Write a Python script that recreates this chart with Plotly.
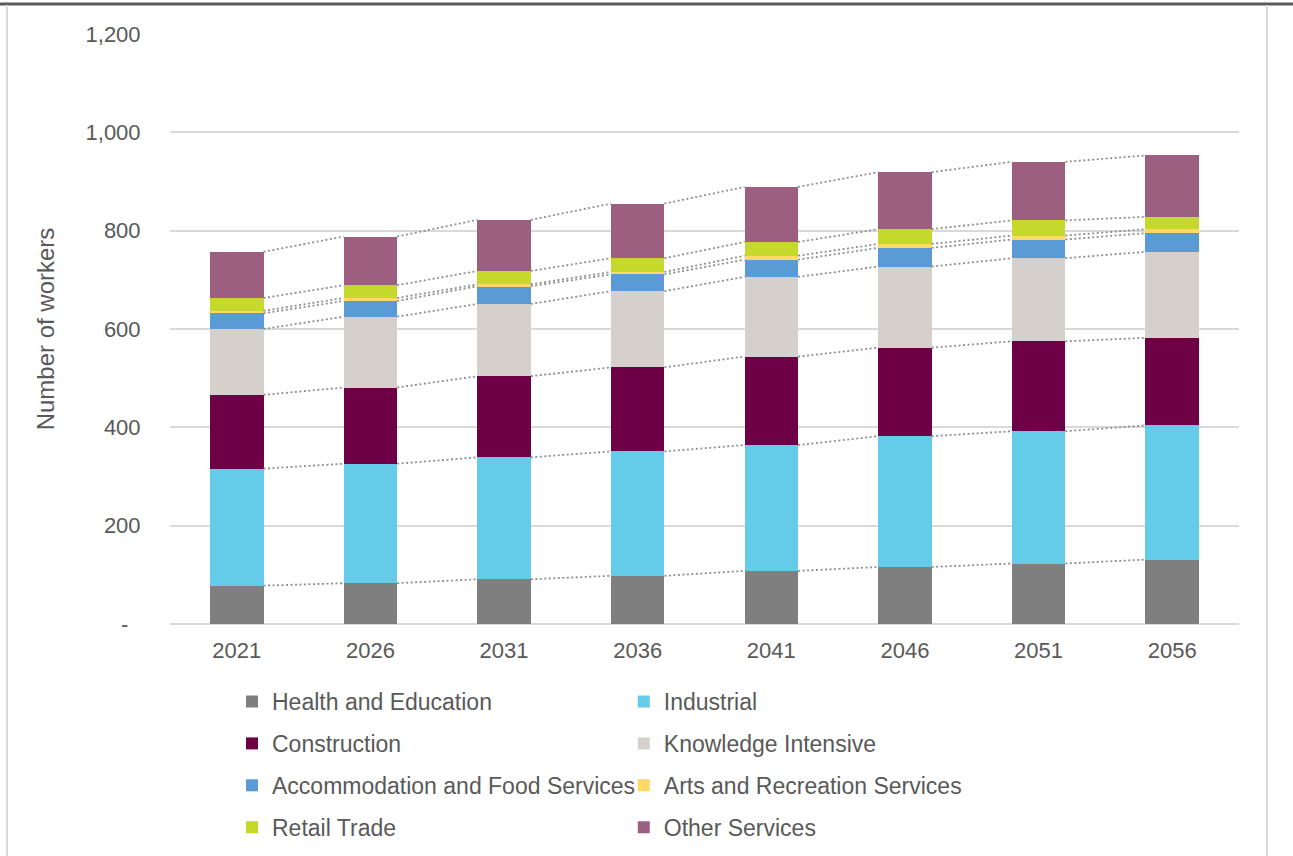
import plotly.graph_objects as go
import numpy as np

# Projected workers by industry group
years = ["2021", "2026", "2031", "2036", "2041", "2046", "2051", "2056"]

health_education = [78, 83, 91, 98, 108, 116, 123, 131]
industrial = [238, 243, 248, 253, 256, 266, 269, 273]
construction = [150, 155, 165, 171, 180, 180, 183, 178]
knowledge_intensive = [134, 144, 147, 155, 162, 165, 169, 175]
accommodation_food = [32, 32, 36, 34, 35, 38, 38, 38]
arts_recreation = [5, 6, 4, 5, 8, 8, 8, 8]
retail_trade = [26, 26, 27, 28, 28, 30, 31, 25]
other_services = [94, 99, 104, 111, 112, 116, 119, 125]

y_tick_vals = [0, 200, 400, 600, 800, 1000, 1200]
y_tick_text = ["-\u00a0\u00a0", "200", "400", "600", "800", "1,000", "1,200"]

series = [
    ("Health and Education", health_education, "#7f7f7f", "legend"),
    ("Industrial", industrial, "#64cbe8", "legend2"),
    ("Construction", construction, "#6e0046", "legend"),
    ("Knowledge Intensive", knowledge_intensive, "#d5d0cc", "legend2"),
    ("Accommodation and Food Services", accommodation_food, "#5b9bd5", "legend"),
    ("Arts and Recreation Services", arts_recreation, "#ffd966", "legend2"),
    ("Retail Trade", retail_trade, "#c5d82c", "legend"),
    ("Other Services", other_services, "#9c5f80", "legend2"),
]

BAR_WIDTH = 0.4
xpos = np.arange(len(years))

fig = go.Figure()

# Stacked bars
for name, vals, color, leg in series:
    fig.add_trace(go.Bar(
        x=xpos, y=vals, name=name, width=BAR_WIDTH,
        marker=dict(color=color, line=dict(width=0)),
        legend=leg, legendgroup=name,
    ))

# Dotted series lines joining segment tops of neighbouring bars
cum = np.zeros(len(years))
for name, vals, color, leg in series:
    cum = cum + np.array(vals, dtype=float)
    lx, ly = [], []
    for i in range(len(years) - 1):
        lx += [xpos[i] + BAR_WIDTH / 2, xpos[i + 1] - BAR_WIDTH / 2, None]
        ly += [cum[i], cum[i + 1], None]
    fig.add_trace(go.Scatter(
        x=lx, y=ly, mode="lines", showlegend=False, hoverinfo="skip",
        line=dict(color="#8f8f8f", width=1.8, dash="2px,2.5px"),
    ))

FONT = "Liberation Sans, Arial, sans-serif"
TXT = "#595959"

fig.update_layout(
    width=1293, height=856,
    margin=dict(l=170, r=54, t=34, b=232, autoexpand=False),
    barmode="stack",
    plot_bgcolor="white", paper_bgcolor="white",
    font=dict(family=FONT, color=TXT, size=22),
    xaxis=dict(
        range=[-0.5, len(years) - 0.5],
        tickmode="array", tickvals=list(xpos), ticktext=years,
        showgrid=False, zeroline=False, showline=False,
        ticks="outside", ticklen=7, tickcolor="rgba(0,0,0,0)",
        tickfont=dict(size=22, color=TXT),
    ),
    yaxis=dict(
        range=[0, 1200],
        tickmode="array", tickvals=y_tick_vals, ticktext=y_tick_text,
        showgrid=True, gridcolor="#d9d9d9", gridwidth=2,
        zeroline=True, zerolinecolor="#d9d9d9", zerolinewidth=2,
        showline=False,
        ticks="outside", ticklen=24, tickcolor="rgba(0,0,0,0)",
        tickfont=dict(size=22, color=TXT),
        title=dict(text="Number of workers", font=dict(size=24, color=TXT), standoff=24),
    ),
    legend=dict(
        orientation="v", x=0.058, xanchor="left", y=-0.095, yanchor="top",
        tracegroupgap=9, font=dict(size=23, color=TXT), bgcolor="rgba(0,0,0,0)",
    ),
    legend2=dict(
        orientation="v", x=0.4245, xanchor="left", y=-0.095, yanchor="top",
        tracegroupgap=9, font=dict(size=23, color=TXT), bgcolor="rgba(0,0,0,0)",
    ),
    shapes=[
        # chart-area frame: dark top edge, light side edges
        dict(type="line", xref="paper", yref="paper",
             x0=(0 - 170) / 1069, x1=(1293 - 170) / 1069,
             y0=(624 - 4) / 590, y1=(624 - 4) / 590,
             line=dict(color="#5a5a5a", width=3)),
        dict(type="line", xref="paper", yref="paper",
             x0=(7 - 170) / 1069, x1=(7 - 170) / 1069,
             y0=(624 - 5) / 590, y1=(624 - 860) / 590,
             line=dict(color="#d9d9d9", width=2)),
        dict(type="line", xref="paper", yref="paper",
             x0=(1267 - 170) / 1069, x1=(1267 - 170) / 1069,
             y0=(624 - 5) / 590, y1=(624 - 860) / 590,
             line=dict(color="#d9d9d9", width=2)),
    ],
)

fig.write_html("out.html")
